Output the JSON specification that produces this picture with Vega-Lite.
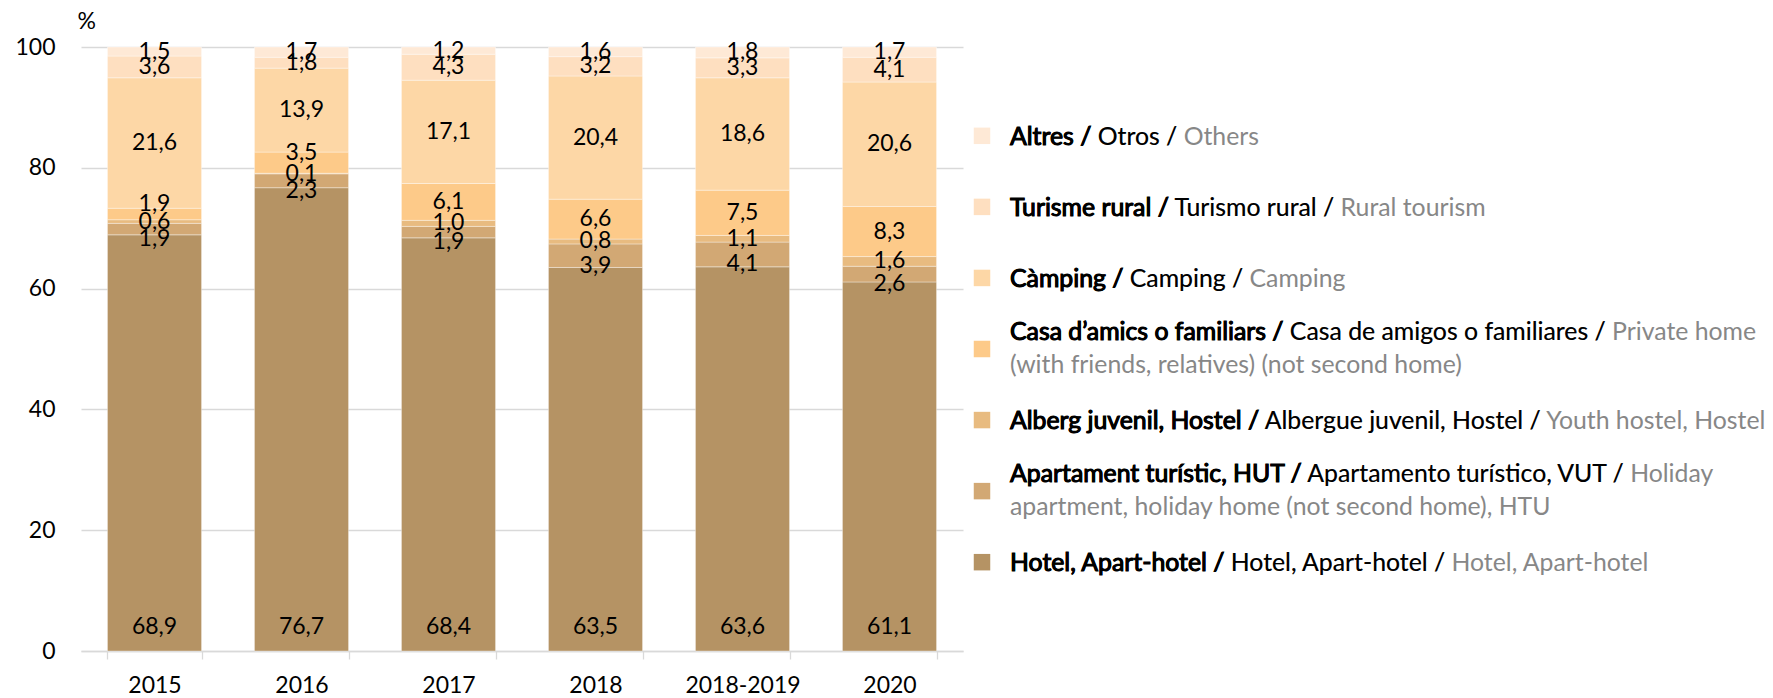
{
  "$schema": "https://vega.github.io/schema/vega-lite/v6.json",
  "padding": {"left": 14, "top": 10, "right": 0, "bottom": 0},
  "config": {
    "locale": {"number": {"decimal": ",", "thousands": ".", "grouping": [3], "currency": ["", " €"]}},
    "font": "Lato",
    "view": {"stroke": null},
    "concat": {"spacing": 9}
  },
  "datasets": {
    "legend": [
      {"k": 7, "lines": 1, "cat": "Altres", "full": "Altres / Otros / Others", "black": "Altres / Otros /", "bold": "Altres /"},
      {"k": 6, "lines": 1, "cat": "Turisme rural", "full": "Turisme rural / Turismo rural / Rural tourism", "black": "Turisme rural / Turismo rural /", "bold": "Turisme rural /"},
      {"k": 5, "lines": 1, "cat": "Càmping", "full": "Càmping / Camping / Camping", "black": "Càmping / Camping /", "bold": "Càmping /"},
      {"k": 4, "lines": 2, "cat": "Casa", "full": "Casa d’amics o familiars / Casa de amigos o familiares / Private home\n(with friends, relatives) (not second home)", "black": "Casa d’amics o familiars / Casa de amigos o familiares /", "bold": "Casa d’amics o familiars /"},
      {"k": 3, "lines": 1, "cat": "Alberg", "full": "Alberg juvenil, Hostel / Albergue juvenil, Hostel / Youth hostel, Hostel", "black": "Alberg juvenil, Hostel / Albergue juvenil, Hostel /", "bold": "Alberg juvenil, Hostel /"},
      {"k": 2, "lines": 2, "cat": "Apartament", "full": "Apartament turístic, HUT / Apartamento turístico, VUT / Holiday\napartment, holiday home (not second home), HTU", "black": "Apartament turístic, HUT / Apartamento turístico, VUT /", "bold": "Apartament turístic, HUT /"},
      {"k": 1, "lines": 1, "cat": "Hotel", "full": "Hotel, Apart-hotel / Hotel, Apart-hotel / Hotel, Apart-hotel", "black": "Hotel, Apart-hotel / Hotel, Apart-hotel /", "bold": "Hotel, Apart-hotel /"}
    ],
    "shares": [
      {"year": "2015", "cat": "Hotel", "value": 68.9},
      {"year": "2015", "cat": "Apartament", "value": 1.9},
      {"year": "2015", "cat": "Alberg", "value": 0.6},
      {"year": "2015", "cat": "Casa", "value": 1.9},
      {"year": "2015", "cat": "Càmping", "value": 21.6},
      {"year": "2015", "cat": "Turisme rural", "value": 3.6},
      {"year": "2015", "cat": "Altres", "value": 1.5},
      {"year": "2016", "cat": "Hotel", "value": 76.7},
      {"year": "2016", "cat": "Apartament", "value": 2.3},
      {"year": "2016", "cat": "Alberg", "value": 0.1},
      {"year": "2016", "cat": "Casa", "value": 3.5},
      {"year": "2016", "cat": "Càmping", "value": 13.9},
      {"year": "2016", "cat": "Turisme rural", "value": 1.8},
      {"year": "2016", "cat": "Altres", "value": 1.7},
      {"year": "2017", "cat": "Hotel", "value": 68.4},
      {"year": "2017", "cat": "Apartament", "value": 1.9},
      {"year": "2017", "cat": "Alberg", "value": 1.0},
      {"year": "2017", "cat": "Casa", "value": 6.1},
      {"year": "2017", "cat": "Càmping", "value": 17.1},
      {"year": "2017", "cat": "Turisme rural", "value": 4.3},
      {"year": "2017", "cat": "Altres", "value": 1.2},
      {"year": "2018", "cat": "Hotel", "value": 63.5},
      {"year": "2018", "cat": "Apartament", "value": 3.9},
      {"year": "2018", "cat": "Alberg", "value": 0.8},
      {"year": "2018", "cat": "Casa", "value": 6.6},
      {"year": "2018", "cat": "Càmping", "value": 20.4},
      {"year": "2018", "cat": "Turisme rural", "value": 3.2},
      {"year": "2018", "cat": "Altres", "value": 1.6},
      {"year": "2018-2019", "cat": "Hotel", "value": 63.6},
      {"year": "2018-2019", "cat": "Apartament", "value": 4.1},
      {"year": "2018-2019", "cat": "Alberg", "value": 1.1},
      {"year": "2018-2019", "cat": "Casa", "value": 7.5},
      {"year": "2018-2019", "cat": "Càmping", "value": 18.6},
      {"year": "2018-2019", "cat": "Turisme rural", "value": 3.3},
      {"year": "2018-2019", "cat": "Altres", "value": 1.8},
      {"year": "2020", "cat": "Hotel", "value": 61.1},
      {"year": "2020", "cat": "Apartament", "value": 2.6},
      {"year": "2020", "cat": "Alberg", "value": 1.6},
      {"year": "2020", "cat": "Casa", "value": 8.3},
      {"year": "2020", "cat": "Càmping", "value": 20.6},
      {"year": "2020", "cat": "Turisme rural", "value": 4.1},
      {"year": "2020", "cat": "Altres", "value": 1.7}
    ]
  },
  "hconcat": [
    {
      "width": 882,
      "height": 604,
      "data": {"name": "shares"},
      "transform": [
        {"lookup": "cat", "from": {"data": {"name": "legend"}, "key": "cat", "fields": ["k"]}},
        {"stack": "value", "groupby": ["year"], "sort": [{"field": "k", "order": "ascending"}], "as": ["y0", "y1"]},
        {"calculate": "(datum.y0 + datum.y1) / 2", "as": "ymid"}
      ],
      "encoding": {
        "x": {
          "field": "year", "type": "nominal", "sort": null,
          "scale": {"paddingInner": 0.36, "paddingOuter": 0.18},
          "axis": {"title": null, "labelAngle": 0, "labelFontSize": 23, "labelColor": "#000000", "tickBand": "extent", "tickColor": "#D9D9D9", "tickSize": 8, "tickWidth": 1.3, "domainColor": "#D9D9D9", "domainWidth": 1.3, "labelPadding": 15, "grid": false}
        }
      },
      "layer": [
        {
          "mark": {"type": "bar", "stroke": "#ffffff", "strokeWidth": 0.5, "strokeOpacity": 0.7},
          "encoding": {
            "y": {
              "field": "y0", "type": "quantitative", "title": "%",
              "scale": {"domain": [0, 100]},
              "axis": {"values": [0, 20, 40, 60, 80, 100], "titleAngle": 0, "titleAlign": "left", "titleBaseline": "middle", "titleX": -4, "titleY": -26, "titleFontSize": 23, "titleFontWeight": "normal", "titleColor": "#000000", "domain": false, "ticks": false, "labelPadding": 26, "labelFontSize": 23, "labelColor": "#000000", "gridColor": "#D9D9D9", "gridWidth": 1.3}
            },
            "y2": {"field": "y1"},
            "color": {
              "field": "cat", "type": "nominal", "legend": null,
              "scale": {
                "domain": ["Hotel", "Apartament", "Alberg", "Casa", "Càmping", "Turisme rural", "Altres"],
                "range": ["#B59364", "#D2A874", "#E8BB80", "#FDCA89", "#FDD7A6", "#FEDFC0", "#FEE9D6"]
              }
            }
          }
        },
        {
          "transform": [{"filter": "datum.cat != 'Hotel' && datum.cat != 'Apartament' && !(datum.cat == 'Casa' && datum.value < 4)"}],
          "mark": {"type": "text", "fontSize": 23, "color": "#000000", "baseline": "middle"},
          "encoding": {
            "y": {"field": "ymid", "type": "quantitative", "title": "%"},
            "text": {"field": "value", "type": "quantitative", "format": ".1f"}
          }
        },
        {
          "transform": [{"filter": "datum.cat == 'Casa' && datum.value < 4"}],
          "mark": {"type": "text", "fontSize": 23, "color": "#000000", "baseline": "middle", "dy": -10},
          "encoding": {
            "y": {"field": "ymid", "type": "quantitative", "title": "%"},
            "text": {"field": "value", "type": "quantitative", "format": ".1f"}
          }
        },
        {
          "transform": [{"filter": "datum.cat == 'Apartament'"}],
          "mark": {"type": "text", "fontSize": 23, "color": "#000000", "baseline": "middle", "dy": 10},
          "encoding": {
            "y": {"field": "ymid", "type": "quantitative", "title": "%"},
            "text": {"field": "value", "type": "quantitative", "format": ".1f"}
          }
        },
        {
          "transform": [{"filter": "datum.cat == 'Hotel'"}],
          "mark": {"type": "text", "fontSize": 23, "color": "#000000", "baseline": "middle", "dy": -24},
          "encoding": {
            "y": {"field": "y0", "type": "quantitative", "title": "%"},
            "text": {"field": "value", "type": "quantitative", "format": ".1f"}
          }
        }
      ]
    },
    {
      "width": 20,
      "height": 604,
      "data": {"name": "legend"},
      "encoding": {
        "y": {"field": "k", "type": "quantitative", "scale": {"domain": [-0.25, 8.25], "zero": false, "nice": false}, "axis": null}
      },
      "layer": [
        {
          "mark": {"type": "point", "shape": "square", "size": 272, "filled": true, "opacity": 1, "strokeWidth": 0},
          "encoding": {
            "color": {
              "field": "cat", "type": "nominal", "legend": null,
              "scale": {
                "domain": ["Hotel", "Apartament", "Alberg", "Casa", "Càmping", "Turisme rural", "Altres"],
                "range": ["#B59364", "#D2A874", "#E8BB80", "#FDCA89", "#FDD7A6", "#FEDFC0", "#FEE9D6"]
              }
            }
          }
        },
        {
          "transform": [{"filter": "datum.lines == 1"}],
          "mark": {"type": "text", "align": "left", "baseline": "middle", "dx": 28, "dy": 2, "fontSize": 24.8, "lineBreak": "\n", "lineHeight": 32, "color": "#878787"},
          "encoding": {"text": {"field": "full", "type": "nominal"}}
        },
        {
          "transform": [{"filter": "datum.lines == 1"}],
          "mark": {"type": "text", "align": "left", "baseline": "middle", "dx": 28, "dy": 2, "fontSize": 24.8, "color": "#000000"},
          "encoding": {"text": {"field": "black", "type": "nominal"}}
        },
        {
          "transform": [{"filter": "datum.lines == 1"}],
          "mark": {"type": "text", "align": "left", "baseline": "middle", "dx": 28, "dy": 2, "fontSize": 24.8, "color": "#000000", "stroke": "#000000", "strokeWidth": 1},
          "encoding": {"text": {"field": "bold", "type": "nominal"}}
        },
        {
          "transform": [{"filter": "datum.lines == 2"}],
          "mark": {"type": "text", "align": "left", "baseline": "middle", "dx": 28, "dy": -16, "fontSize": 24.8, "lineBreak": "\n", "lineHeight": 33, "color": "#878787"},
          "encoding": {"text": {"field": "full", "type": "nominal"}}
        },
        {
          "transform": [{"filter": "datum.lines == 2"}],
          "mark": {"type": "text", "align": "left", "baseline": "middle", "dx": 28, "dy": -16, "fontSize": 24.8, "color": "#000000"},
          "encoding": {"text": {"field": "black", "type": "nominal"}}
        },
        {
          "transform": [{"filter": "datum.lines == 2"}],
          "mark": {"type": "text", "align": "left", "baseline": "middle", "dx": 28, "dy": -16, "fontSize": 24.8, "color": "#000000", "stroke": "#000000", "strokeWidth": 1},
          "encoding": {"text": {"field": "bold", "type": "nominal"}}
        }
      ]
    }
  ]
}
